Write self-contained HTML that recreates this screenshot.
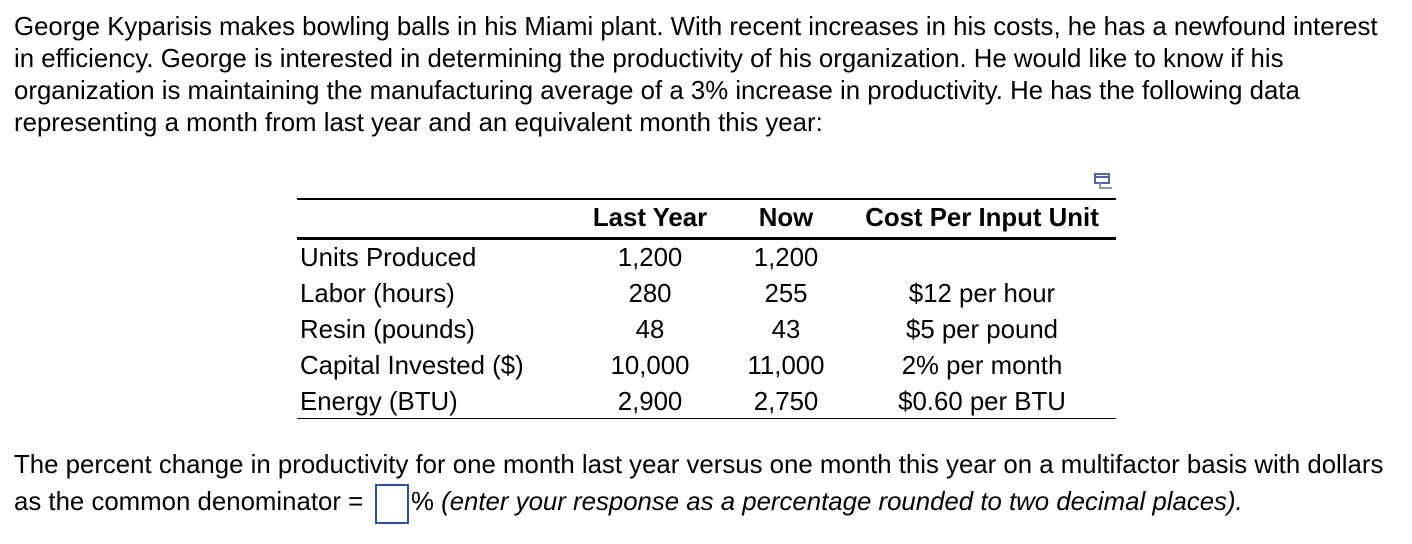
<!DOCTYPE html>
<html><head><meta charset="utf-8"><style>
body{margin:0;width:1412px;height:544px;background:#fff;font-family:"Liberation Sans",Arial,sans-serif;color:#000;position:relative;overflow:hidden}
.t{position:absolute;font-size:25.8px;line-height:32px;white-space:nowrap}
.c{position:absolute;font-size:25.8px;line-height:36px;white-space:nowrap;transform:translateX(-50%)}
.l{position:absolute;font-size:25.8px;line-height:36px;white-space:nowrap;left:300px}
.h{font-weight:bold}
.rule{position:absolute;left:297px;width:819px;background:#000}
</style></head><body>
<div>
<div class="t" style="left:14px;top:11px">George Kyparisis makes bowling balls in his Miami plant. With recent increases in his costs, he has a newfound interest</div>
<div class="t" style="left:14px;top:43px">in efficiency. George is interested in determining the productivity of his organization. He would like to know if his</div>
<div class="t" style="left:14px;top:75px">organization is maintaining the manufacturing average of a 3% increase in productivity. He has the following data</div>
<div class="t" style="left:14px;top:107px">representing a month from last year and an equivalent month this year:</div>
</div>
<svg style="position:absolute;left:1094px;top:173px" width="20" height="18" viewBox="0 0 20 18"><rect x="1" y="1" width="14" height="9" fill="none" stroke="#5560b0" stroke-width="2"/><line x1="1" y1="4" x2="15" y2="4" stroke="#5560b0" stroke-width="2"/><path d="M6 10 V15 H18" fill="none" stroke="#8a93c8" stroke-width="2"/></svg>
<div>
<div class="rule" style="top:198px;height:2px"></div>
<div class="rule" style="top:237px;height:3px"></div>
<div class="rule" style="top:418px;height:1px"></div>
<div class="c h" style="left:650px;top:200px">Last Year</div>
<div class="c h" style="left:786px;top:200px">Now</div>
<div class="c h" style="left:982px;top:200px">Cost Per Input Unit</div>
<div class="l" style="top:240px">Units Produced</div>
<div class="l" style="top:276px">Labor (hours)</div>
<div class="l" style="top:312px">Resin (pounds)</div>
<div class="l" style="top:348px">Capital Invested ($)</div>
<div class="l" style="top:384px">Energy (BTU)</div>
<div class="c" style="left:650px;top:240px">1,200</div>
<div class="c" style="left:650px;top:276px">280</div>
<div class="c" style="left:650px;top:312px">48</div>
<div class="c" style="left:650px;top:348px">10,000</div>
<div class="c" style="left:650px;top:384px">2,900</div>
<div class="c" style="left:786px;top:240px">1,200</div>
<div class="c" style="left:786px;top:276px">255</div>
<div class="c" style="left:786px;top:312px">43</div>
<div class="c" style="left:786px;top:348px">11,000</div>
<div class="c" style="left:786px;top:384px">2,750</div>
<div class="c" style="left:982px;top:276px">$12 per hour</div>
<div class="c" style="left:982px;top:312px">$5 per pound</div>
<div class="c" style="left:982px;top:348px">2% per month</div>
<div class="c" style="left:982px;top:384px">$0.60 per BTU</div>
</div>
<div class="t" style="left:14px;top:449px">The percent change in productivity for one month last year versus one month this year on a multifactor basis with dollars</div>
<div class="t" style="left:14px;top:486px">as the common denominator =</div>
<div style="position:absolute;left:375px;top:484px;width:30px;height:36px;border:2px solid #2a4fb8"></div>
<div class="t" style="left:411px;top:486px">% <i>(enter your response as a percentage rounded to two decimal places).</i></div>
</body></html>
